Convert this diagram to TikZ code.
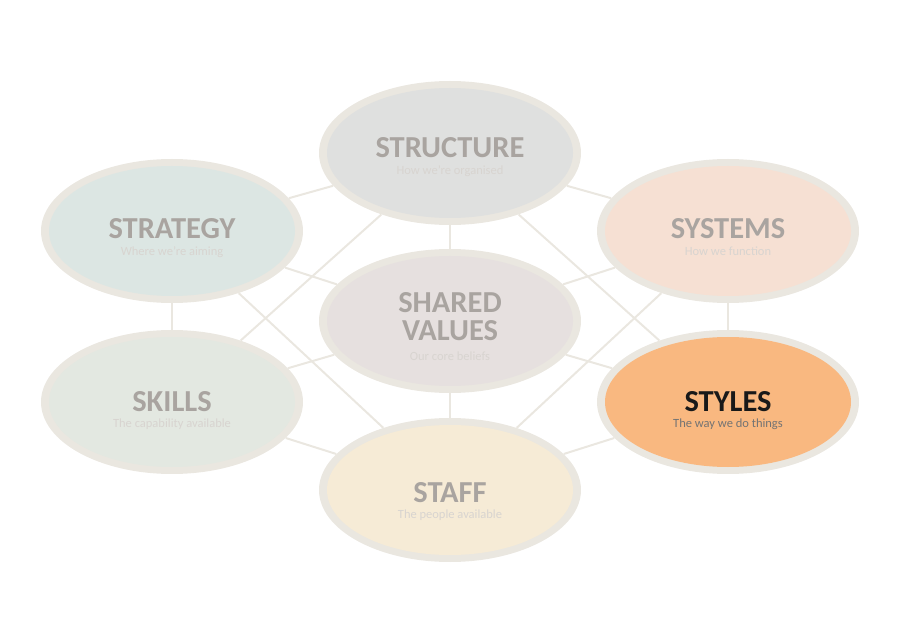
\documentclass[tikz,border=0pt]{standalone}
\usepackage{fontspec}
\setmainfont{Carlito}
\usetikzlibrary{shapes.geometric,backgrounds}
\definecolor{ring}{HTML}{EAE7E0}
\definecolor{linecol}{HTML}{EAE7E0}
\definecolor{titlegrey}{HTML}{A9A4A0}
\definecolor{subgrey}{HTML}{D8D4D0}
\definecolor{cStructure}{HTML}{DFE0DF}
\definecolor{cStrategy}{HTML}{DCE6E3}
\definecolor{cSystems}{HTML}{F6E0D3}
\definecolor{cShared}{HTML}{E6E0DF}
\definecolor{cSkills}{HTML}{E3E8E1}
\definecolor{cStyles}{HTML}{F9B880}
\definecolor{cStaff}{HTML}{F6EBD6}
\begin{document}
\begin{tikzpicture}[x=1pt,y=-1pt,
  ringe/.style={ellipse,minimum width=262pt,minimum height=144pt,inner sep=0pt,fill=ring},
  core/.style={ellipse,minimum width=246pt,minimum height=130pt,inner sep=0pt,fill=#1},
  ttl/.style={font=\fontsize{30.5}{30.5}\selectfont\bfseries,text=titlegrey,inner sep=0pt,anchor=base},
  sub/.style={font=\fontsize{12.5}{12.5}\selectfont,text=subgrey,inner sep=0pt,anchor=base},
  link/.style={draw=linecol,line width=2pt}]
\useasboundingbox (0,0) rectangle (900,636);
% Structure
\node[ringe] (structure) at (450,153) {};
\node[core=cStructure] (structureC) at (450,153) {};
\node[ttl] (structureT) at (450,158) {STRUCTURE};
\node[sub] (structureS) at (450,175) {How we're organised};
% Strategy
\node[ringe] (strategy) at (172,231) {};
\node[core=cStrategy] (strategyC) at (172,231) {};
\node[ttl] (strategyT) at (172,239) {STRATEGY};
\node[sub] (strategyS) at (172,256) {Where we're aiming};
% Systems
\node[ringe] (systems) at (728,231) {};
\node[core=cSystems] (systemsC) at (728,231) {};
\node[ttl] (systemsT) at (728,239) {SYSTEMS};
\node[sub] (systemsS) at (728,256) {How we function};
% Shared values
\node[ringe] (shared) at (450,321) {};
\node[core=cShared] (sharedC) at (450,321) {};
\node[ttl] (sharedT1) at (450,313) {SHARED};
\node[ttl] (sharedT2) at (450,341) {VALUES};
\node[sub] (sharedS) at (450,360) {Our core beliefs};
% Skills
\node[ringe] (skills) at (172,402) {};
\node[core=cSkills] (skillsC) at (172,402) {};
\node[ttl] (skillsT) at (172,411) {SKILLS};
\node[sub] (skillsS) at (172,427) {The capability available};
% Styles
\node[ringe] (styles) at (728,402) {};
\node[core=cStyles] (stylesC) at (728,402) {};
\node[ttl,text=black!90] (stylesT) at (728,411) {STYLES};
\node[sub,text=black!55] (stylesS) at (728,427) {The way we do things};
% Staff
\node[ringe] (staff) at (450,490) {};
\node[core=cStaff] (staffC) at (450,490) {};
\node[ttl] (staffT) at (450,502) {STAFF};
\node[sub] (staffS) at (450,518) {The people available};
\begin{pgfonlayer}{background}
\draw[link] (strategy) -- (structure);
\draw[link] (structure) -- (systems);
\draw[link] (systems) -- (styles);
\draw[link] (styles) -- (staff);
\draw[link] (staff) -- (skills);
\draw[link] (skills) -- (strategy);
\draw[link] (shared) -- (structure);
\draw[link] (shared) -- (strategy);
\draw[link] (shared) -- (systems);
\draw[link] (shared) -- (skills);
\draw[link] (shared) -- (styles);
\draw[link] (shared) -- (staff);
\draw[link] (structure) -- (skills);
\draw[link] (structure) -- (styles);
\draw[link] (strategy) -- (staff);
\draw[link] (systems) -- (staff);
\end{pgfonlayer}
\end{tikzpicture}
\end{document}
